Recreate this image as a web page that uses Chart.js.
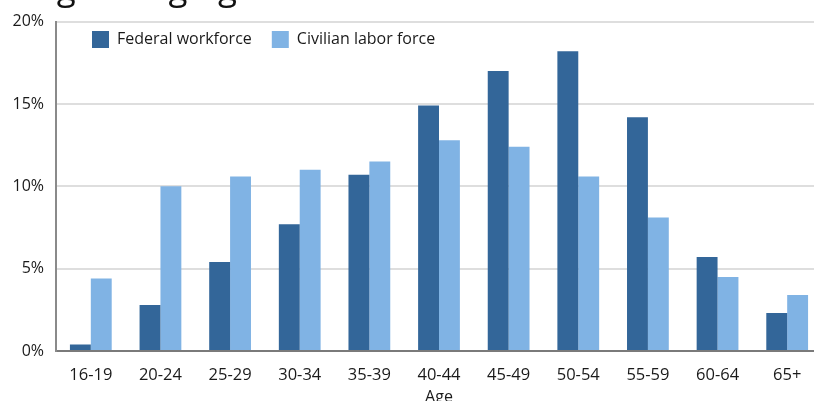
<!DOCTYPE html>
<html>
<head>
<meta charset="utf-8">
<script src="https://cdn.jsdelivr.net/npm/chart.js@4/dist/chart.umd.min.js"></script>
<style>
  html, body { margin: 0; padding: 0; background: #fff; overflow: hidden; }
  #wrap { width: 822px; height: 401px; }
</style>
</head>
<body>
<div id="wrap"><canvas id="c" width="822" height="401"></canvas></div>
<script>
// Age groups and share of each workforce (percent)
const ageGroups = ['16-19', '20-24', '25-29', '30-34', '35-39', '40-44', '45-49', '50-54', '55-59', '60-64', '65+'];
const federalWorkforce = [0.4, 2.8, 5.4, 7.7, 10.7, 14.9, 17.0, 18.2, 14.2, 5.7, 2.3];
const civilianLaborForce = [4.4, 10.0, 10.6, 11.0, 11.5, 12.8, 12.4, 10.6, 8.1, 4.5, 3.4];
const yTicks = [0, 5, 10, 15, 20];
const chartTitle = 'Percentage of Aging Government';

const FONT = "'Open Sans', 'Noto Sans', sans-serif";

// Heading text sitting above the plot
const headingPlugin = {
  id: 'heading',
  afterDraw(chart) {
    const ctx = chart.ctx;
    ctx.save();
    ctx.font = "35px " + FONT;
    ctx.fillStyle = '#111';
    ctx.textBaseline = 'alphabetic';
    ctx.textAlign = 'left';
    ctx.fillText(chartTitle, -88, 0);
    ctx.restore();
  }
};

// Legend takes no room of its own; it is drawn over the top-left of the plot
const legendOverlay = {
  id: 'legendOverlay',
  beforeLayout(chart) {
    const lg = chart.legend;
    if (!lg || lg._overlay) return;
    const fit = lg.fit.bind(lg);
    lg.fit = function () { fit(); this.height = 0; };
    lg._overlay = true;
  },
  afterLayout(chart) {
    const lg = chart.legend;
    if (!lg) return;
    const w = lg.right - lg.left;
    lg.left = 72; lg.right = 72 + w;
    lg.top = 11; lg.bottom = 11 + 45;
    lg.height = 45;
  }
};

new Chart(document.getElementById('c'), {
  type: 'bar',
  data: {
    labels: ageGroups,
    datasets: [
      {
        label: 'Federal workforce',
        data: federalWorkforce,
        backgroundColor: '#336699',
        borderWidth: 0
      },
      {
        label: 'Civilian labor force',
        data: civilianLaborForce,
        backgroundColor: '#80b3e4',
        borderWidth: 0
      }
    ]
  },
  options: {
    responsive: false,
    animation: false,
    layout: { padding: { top: 20, right: 0, bottom: 0, left: 0 } },
    datasets: {
      bar: { categoryPercentage: 0.6, barPercentage: 1.0 }
    },
    plugins: {
      tooltip: { enabled: false },
      legend: {
        position: 'top',
        align: 'start',
        labels: {
          boxWidth: 17,
          boxHeight: 17,
          padding: 20,
          color: '#1a1a1a',
          font: { family: FONT, size: 16 }
        }
      }
    },
    scales: {
      x: {
        grid: { display: false, drawTicks: false },
        border: { display: true, color: '#7a7a7a', width: 2 },
        ticks: {
          color: '#1a1a1a',
          padding: 14,
          maxRotation: 0,
          font: { family: FONT, size: 16.5 }
        },
        title: {
          display: true,
          text: 'Age',
          color: '#1a1a1a',
          font: { family: FONT, size: 16 },
          padding: { top: 0, bottom: -6 }
        },
        afterFit(scale) { scale.height = 50; }
      },
      y: {
        min: 0,
        max: 20,
        afterBuildTicks(scale) { scale.ticks = yTicks.map(v => ({ value: v })); },
        grid: { color: '#dedede', lineWidth: 2, drawTicks: false },
        border: { display: true, color: '#8a8a8a', width: 2 },
        ticks: {
          color: '#1a1a1a',
          padding: 12,
          font: { family: FONT, size: 16 },
          callback: v => v + '%'
        },
        afterFit(scale) { scale.width = 56; }
      }
    }
  },
  plugins: [headingPlugin, legendOverlay]
});
</script>
</body>
</html>
